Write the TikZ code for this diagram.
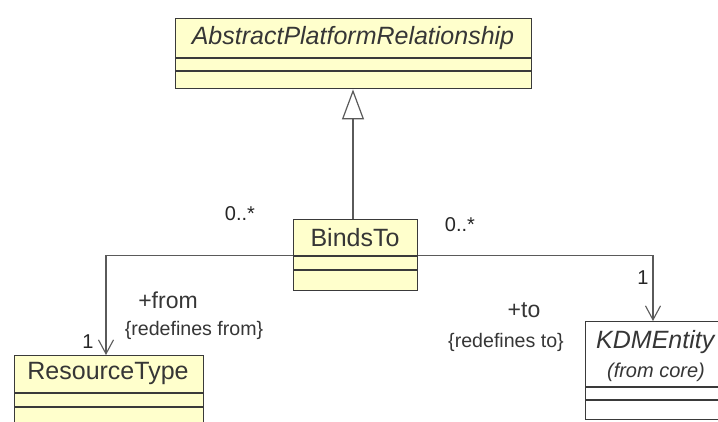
\documentclass[tikz,border=0pt]{standalone}
\usepackage{fontspec}
\setmainfont{Liberation Sans}
\usetikzlibrary{arrows.meta}
\definecolor{umlfill}{HTML}{FFFFCC}
\definecolor{umlline}{HTML}{3A3A3A}
\definecolor{umltext}{HTML}{363636}
\definecolor{conn}{HTML}{5A5A5A}
\tikzset{
  classbox/.style={draw=umlline, line width=1.4pt, fill=umlfill, inner sep=0pt, anchor=north west},
  whitebox/.style={classbox, fill=white},
  cname/.style={text=umltext, inner sep=0pt, font=\fontsize{25}{29}\selectfont},
  cnamei/.style={cname, font=\fontsize{25}{29}\selectfont\itshape},
  rolelab/.style={text=umltext, inner sep=0pt, font=\fontsize{23}{27}\selectfont},
  conslab/.style={text=umltext, inner sep=0pt, font=\fontsize{19.6}{23}\selectfont},
  multlab/.style={text=black!85, inner sep=0pt, font=\fontsize{20}{23}\selectfont},
  connector/.style={draw=conn, line width=1.1pt},
  assoc/.style={connector, -{Straight Barb[length=14pt, width=15pt, line width=1.1pt]}},
  gen/.style={connector, -{Triangle[open, length=30pt, width=22pt, line width=1.2pt, fill=white]}},
  compline/.style={draw=umlline, line width=1.4pt}
}
\begin{document}
\begin{tikzpicture}[x=1pt, y=-1pt]
\useasboundingbox (0,0) rectangle (718,421);
\clip (0,0) rectangle (718,421);
\fill[white] (0,0) rectangle (718,421);

% AbstractPlatformRelationship
\node[classbox, minimum width=356pt, minimum height=70pt] (abs) at (175,18) {};
\draw[compline] (175,58) -- (531,58) (175,71) -- (531,71);
\node[cnamei] (absname) at (353,38) {AbstractPlatformRelationship};

% BindsTo
\node[classbox, minimum width=124pt, minimum height=71pt] (binds) at (293,219) {};
\draw[compline] (293,256) -- (417,256) (293,270) -- (417,270);
\node[cname] (bindsname) at (355,238) {BindsTo};

% ResourceType
\node[classbox, minimum width=189pt, minimum height=90pt] (res) at (14,355) {};
\draw[compline] (14,393) -- (203,393) (14,407) -- (203,407);
\node[cname] (resname) at (108,373) {ResourceType};

% KDMEntity
\node[whitebox, minimum width=160pt, minimum height=98pt] (kdm) at (585,321) {};
\draw[compline] (585,387) -- (745,387) (585,400) -- (745,400);
\node[cnamei, anchor=west] (kdmname) at (596,342) {KDMEntity};
\node[conslab, font=\fontsize{20}{23}\selectfont\itshape] (kdmfrom) at (656,372) {(from core)};

% connectors
\coordinate (kdmtop) at (653,321);
\coordinate (restop) at (106,355);
\draw[gen] (binds.north -| absname) -- (abs.south -| absname);
\draw[assoc] (binds.west) -| (restop);
\draw[assoc] (binds.east) -| (kdmtop);

% labels
\node[multlab] (m1) at (240,214) {0..*};
\node[multlab] (m2) at (460,225) {0..*};
\node[multlab] (m3) at (88,342) {1};
\node[multlab] (m4) at (643,278) {1};
\node[rolelab] (rfrom) at (168,300) {+from};
\node[conslab] (cfrom) at (194,330) {\{redefines from\}};
\node[rolelab] (rto) at (524,310) {+to};
\node[conslab] (cto) at (506,342) {\{redefines to\}};
\end{tikzpicture}
\end{document}
